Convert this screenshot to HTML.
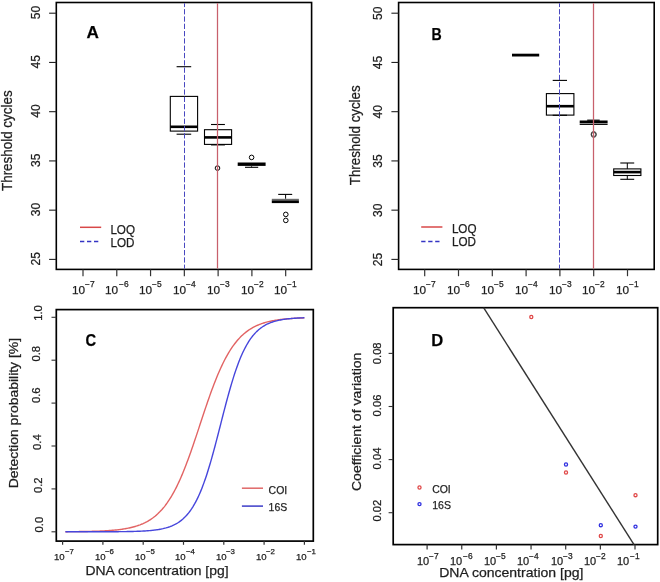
<!DOCTYPE html>
<html><head><meta charset="utf-8"><style>
html,body{margin:0;padding:0;background:#fff;}
svg{display:block;will-change:transform;}
text{font-family:"Liberation Sans",sans-serif;stroke:#1e1e1e;stroke-width:0.25px;}
</style></head><body>
<svg width="660" height="582" viewBox="0 0 660 582">
<rect width="660" height="582" fill="#fff"/>
<rect x="56.30" y="2.50" width="255.30" height="266.90" stroke="#000" stroke-width="1.6" fill="none"/>
<rect x="398.60" y="2.50" width="255.60" height="266.90" stroke="#000" stroke-width="1.6" fill="none"/>
<line x1="49.10" y1="259.40" x2="56.30" y2="259.40" stroke="#222" stroke-width="1.1" />
<text x="39.80" y="258.70" font-size="12.1" text-anchor="middle" font-weight="normal" fill="#1e1e1e" transform="rotate(-90 39.80 258.70)" >25</text>
<line x1="49.10" y1="210.16" x2="56.30" y2="210.16" stroke="#222" stroke-width="1.1" />
<text x="39.80" y="209.46" font-size="12.1" text-anchor="middle" font-weight="normal" fill="#1e1e1e" transform="rotate(-90 39.80 209.46)" >30</text>
<line x1="49.10" y1="160.92" x2="56.30" y2="160.92" stroke="#222" stroke-width="1.1" />
<text x="39.80" y="160.22" font-size="12.1" text-anchor="middle" font-weight="normal" fill="#1e1e1e" transform="rotate(-90 39.80 160.22)" >35</text>
<line x1="49.10" y1="111.68" x2="56.30" y2="111.68" stroke="#222" stroke-width="1.1" />
<text x="39.80" y="110.98" font-size="12.1" text-anchor="middle" font-weight="normal" fill="#1e1e1e" transform="rotate(-90 39.80 110.98)" >40</text>
<line x1="49.10" y1="62.44" x2="56.30" y2="62.44" stroke="#222" stroke-width="1.1" />
<text x="39.80" y="61.74" font-size="12.1" text-anchor="middle" font-weight="normal" fill="#1e1e1e" transform="rotate(-90 39.80 61.74)" >45</text>
<line x1="49.10" y1="13.20" x2="56.30" y2="13.20" stroke="#222" stroke-width="1.1" />
<text x="39.80" y="12.50" font-size="12.1" text-anchor="middle" font-weight="normal" fill="#1e1e1e" transform="rotate(-90 39.80 12.50)" >50</text>
<line x1="391.40" y1="259.40" x2="398.60" y2="259.40" stroke="#222" stroke-width="1.1" />
<text x="382.00" y="259.40" font-size="12.1" text-anchor="middle" font-weight="normal" fill="#1e1e1e" transform="rotate(-90 382.00 259.40)" >25</text>
<line x1="391.40" y1="210.16" x2="398.60" y2="210.16" stroke="#222" stroke-width="1.1" />
<text x="382.00" y="210.16" font-size="12.1" text-anchor="middle" font-weight="normal" fill="#1e1e1e" transform="rotate(-90 382.00 210.16)" >30</text>
<line x1="391.40" y1="160.92" x2="398.60" y2="160.92" stroke="#222" stroke-width="1.1" />
<text x="382.00" y="160.92" font-size="12.1" text-anchor="middle" font-weight="normal" fill="#1e1e1e" transform="rotate(-90 382.00 160.92)" >35</text>
<line x1="391.40" y1="111.68" x2="398.60" y2="111.68" stroke="#222" stroke-width="1.1" />
<text x="382.00" y="111.68" font-size="12.1" text-anchor="middle" font-weight="normal" fill="#1e1e1e" transform="rotate(-90 382.00 111.68)" >40</text>
<line x1="391.40" y1="62.44" x2="398.60" y2="62.44" stroke="#222" stroke-width="1.1" />
<text x="382.00" y="62.44" font-size="12.1" text-anchor="middle" font-weight="normal" fill="#1e1e1e" transform="rotate(-90 382.00 62.44)" >45</text>
<line x1="391.40" y1="13.20" x2="398.60" y2="13.20" stroke="#222" stroke-width="1.1" />
<text x="382.00" y="13.20" font-size="12.1" text-anchor="middle" font-weight="normal" fill="#1e1e1e" transform="rotate(-90 382.00 13.20)" >50</text>
<line x1="83.00" y1="269.40" x2="83.00" y2="276.20" stroke="#333" stroke-width="1.2" />
<text x="72.00" y="294.10" font-size="11.8" text-anchor="start" font-weight="normal" fill="#1e1e1e" >10</text>
<text x="85.00" y="287.10" font-size="8.4" text-anchor="start" font-weight="normal" fill="#1e1e1e" >−7</text>
<line x1="116.78" y1="269.40" x2="116.78" y2="276.20" stroke="#333" stroke-width="1.2" />
<text x="105.00" y="294.10" font-size="11.8" text-anchor="start" font-weight="normal" fill="#1e1e1e" >10</text>
<text x="119.00" y="287.10" font-size="8.4" text-anchor="start" font-weight="normal" fill="#1e1e1e" >−6</text>
<line x1="150.56" y1="269.40" x2="150.56" y2="276.20" stroke="#333" stroke-width="1.2" />
<text x="139.00" y="294.10" font-size="11.8" text-anchor="start" font-weight="normal" fill="#1e1e1e" >10</text>
<text x="152.00" y="287.10" font-size="8.4" text-anchor="start" font-weight="normal" fill="#1e1e1e" >−5</text>
<line x1="184.34" y1="269.40" x2="184.34" y2="276.20" stroke="#333" stroke-width="1.2" />
<text x="173.00" y="294.10" font-size="11.8" text-anchor="start" font-weight="normal" fill="#1e1e1e" >10</text>
<text x="186.00" y="287.10" font-size="8.4" text-anchor="start" font-weight="normal" fill="#1e1e1e" >−4</text>
<line x1="218.12" y1="269.40" x2="218.12" y2="276.20" stroke="#333" stroke-width="1.2" />
<text x="207.00" y="294.10" font-size="11.8" text-anchor="start" font-weight="normal" fill="#1e1e1e" >10</text>
<text x="220.00" y="287.10" font-size="8.4" text-anchor="start" font-weight="normal" fill="#1e1e1e" >−3</text>
<line x1="251.90" y1="269.40" x2="251.90" y2="276.20" stroke="#333" stroke-width="1.2" />
<text x="241.00" y="294.10" font-size="11.8" text-anchor="start" font-weight="normal" fill="#1e1e1e" >10</text>
<text x="254.00" y="287.10" font-size="8.4" text-anchor="start" font-weight="normal" fill="#1e1e1e" >−2</text>
<line x1="285.68" y1="269.40" x2="285.68" y2="276.20" stroke="#333" stroke-width="1.2" />
<text x="274.00" y="294.10" font-size="11.8" text-anchor="start" font-weight="normal" fill="#1e1e1e" >10</text>
<text x="287.00" y="287.10" font-size="8.4" text-anchor="start" font-weight="normal" fill="#1e1e1e" >−1</text>
<line x1="424.70" y1="269.40" x2="424.70" y2="276.20" stroke="#333" stroke-width="1.2" />
<text x="413.00" y="294.10" font-size="11.8" text-anchor="start" font-weight="normal" fill="#1e1e1e" >10</text>
<text x="426.00" y="287.10" font-size="8.4" text-anchor="start" font-weight="normal" fill="#1e1e1e" >−7</text>
<line x1="458.50" y1="269.40" x2="458.50" y2="276.20" stroke="#333" stroke-width="1.2" />
<text x="447.00" y="294.10" font-size="11.8" text-anchor="start" font-weight="normal" fill="#1e1e1e" >10</text>
<text x="460.00" y="287.10" font-size="8.4" text-anchor="start" font-weight="normal" fill="#1e1e1e" >−6</text>
<line x1="492.30" y1="269.40" x2="492.30" y2="276.20" stroke="#333" stroke-width="1.2" />
<text x="481.00" y="294.10" font-size="11.8" text-anchor="start" font-weight="normal" fill="#1e1e1e" >10</text>
<text x="494.00" y="287.10" font-size="8.4" text-anchor="start" font-weight="normal" fill="#1e1e1e" >−5</text>
<line x1="526.10" y1="269.40" x2="526.10" y2="276.20" stroke="#333" stroke-width="1.2" />
<text x="515.00" y="294.10" font-size="11.8" text-anchor="start" font-weight="normal" fill="#1e1e1e" >10</text>
<text x="528.00" y="287.10" font-size="8.4" text-anchor="start" font-weight="normal" fill="#1e1e1e" >−4</text>
<line x1="559.90" y1="269.40" x2="559.90" y2="276.20" stroke="#333" stroke-width="1.2" />
<text x="549.00" y="294.10" font-size="11.8" text-anchor="start" font-weight="normal" fill="#1e1e1e" >10</text>
<text x="562.00" y="287.10" font-size="8.4" text-anchor="start" font-weight="normal" fill="#1e1e1e" >−3</text>
<line x1="593.70" y1="269.40" x2="593.70" y2="276.20" stroke="#333" stroke-width="1.2" />
<text x="582.00" y="294.10" font-size="11.8" text-anchor="start" font-weight="normal" fill="#1e1e1e" >10</text>
<text x="595.00" y="287.10" font-size="8.4" text-anchor="start" font-weight="normal" fill="#1e1e1e" >−2</text>
<line x1="627.50" y1="269.40" x2="627.50" y2="276.20" stroke="#333" stroke-width="1.2" />
<text x="616.00" y="294.10" font-size="11.8" text-anchor="start" font-weight="normal" fill="#1e1e1e" >10</text>
<text x="629.00" y="287.10" font-size="8.4" text-anchor="start" font-weight="normal" fill="#1e1e1e" >−1</text>
<line x1="80.00" y1="227.30" x2="101.20" y2="227.30" stroke="#d84848" stroke-width="1.5" />
<line x1="80.00" y1="241.50" x2="99.00" y2="241.50" stroke="#3434c4" stroke-width="1.5" stroke-dasharray="4.3 2.7" />
<text x="110.40" y="233.50" font-size="12" text-anchor="start" font-weight="normal" fill="#1e1e1e" textLength="24.60" lengthAdjust="spacingAndGlyphs" >LOQ</text>
<text x="110.40" y="246.80" font-size="12" text-anchor="start" font-weight="normal" fill="#1e1e1e" textLength="24.00" lengthAdjust="spacingAndGlyphs" >LOD</text>
<line x1="421.20" y1="227.00" x2="442.40" y2="227.00" stroke="#d84848" stroke-width="1.5" />
<line x1="421.20" y1="241.50" x2="440.20" y2="241.50" stroke="#3434c4" stroke-width="1.5" stroke-dasharray="4.3 2.7" />
<text x="451.90" y="233.20" font-size="12" text-anchor="start" font-weight="normal" fill="#1e1e1e" textLength="24.60" lengthAdjust="spacingAndGlyphs" >LOQ</text>
<text x="451.90" y="246.40" font-size="12" text-anchor="start" font-weight="normal" fill="#1e1e1e" textLength="24.00" lengthAdjust="spacingAndGlyphs" >LOD</text>
<text x="86.60" y="37.80" font-size="16.2" text-anchor="start" font-weight="bold" fill="#000" textLength="12.40" lengthAdjust="spacingAndGlyphs" >A</text>
<text x="431.60" y="39.70" font-size="16.5" text-anchor="start" font-weight="bold" fill="#000" textLength="10.20" lengthAdjust="spacingAndGlyphs" >B</text>
<text x="12.10" y="191.00" font-size="13.8" text-anchor="start" font-weight="normal" fill="#1e1e1e" transform="rotate(-90 12.10 191.00)" textLength="100.60" lengthAdjust="spacingAndGlyphs" >Threshold cycles</text>
<text x="359.60" y="185.20" font-size="13.8" text-anchor="start" font-weight="normal" fill="#1e1e1e" transform="rotate(-90 359.60 185.20)" textLength="99.80" lengthAdjust="spacingAndGlyphs" >Threshold cycles</text>
<line x1="176.60" y1="66.70" x2="191.20" y2="66.70" stroke="#000" stroke-width="1.1" />
<line x1="176.60" y1="134.20" x2="191.20" y2="134.20" stroke="#000" stroke-width="1.1" />
<rect x="170.30" y="96.40" width="27.30" height="34.70" stroke="#000" stroke-width="1.1" fill="none"/>
<line x1="170.30" y1="126.80" x2="197.60" y2="126.80" stroke="#000" stroke-width="2.6" />
<line x1="211.00" y1="124.50" x2="224.90" y2="124.50" stroke="#000" stroke-width="1.1" />
<line x1="211.00" y1="144.90" x2="224.90" y2="144.90" stroke="#000" stroke-width="1.1" />
<rect x="204.50" y="129.70" width="27.10" height="14.70" stroke="#000" stroke-width="1.1" fill="none"/>
<line x1="204.50" y1="137.40" x2="231.60" y2="137.40" stroke="#000" stroke-width="2.6" />
<circle cx="217.50" cy="168.10" r="2.3" stroke="#000" stroke-width="1" fill="none"/>
<line x1="245.00" y1="167.30" x2="258.20" y2="167.30" stroke="#000" stroke-width="1.1" />
<line x1="251.60" y1="166.30" x2="251.60" y2="167.30" stroke="#000" stroke-width="1" />
<rect x="237.7" y="162.5" width="27.9" height="3.4" fill="#000"/>
<circle cx="251.60" cy="157.40" r="2.3" stroke="#000" stroke-width="1" fill="none"/>
<line x1="278.20" y1="194.40" x2="292.20" y2="194.40" stroke="#000" stroke-width="1.1" />
<line x1="285.60" y1="194.40" x2="285.60" y2="198.80" stroke="#000" stroke-width="1" />
<rect x="271.8" y="198.8" width="27.1" height="1.6" fill="#6a6a6a"/>
<rect x="271.8" y="200.4" width="27.1" height="2.7" fill="#000"/>
<circle cx="285.80" cy="214.40" r="2.3" stroke="#000" stroke-width="1" fill="none"/>
<circle cx="285.80" cy="220.40" r="2.3" stroke="#000" stroke-width="1" fill="none"/>
<line x1="512.00" y1="55.10" x2="539.20" y2="55.10" stroke="#000" stroke-width="2.8" />
<line x1="552.70" y1="80.40" x2="567.00" y2="80.40" stroke="#000" stroke-width="1.1" />
<line x1="552.70" y1="115.30" x2="567.00" y2="115.30" stroke="#000" stroke-width="1.1" />
<rect x="546.40" y="93.60" width="27.50" height="21.50" stroke="#000" stroke-width="1.1" fill="none"/>
<line x1="546.40" y1="106.20" x2="573.90" y2="106.20" stroke="#000" stroke-width="2.6" />
<line x1="587.20" y1="120.20" x2="599.70" y2="120.20" stroke="#000" stroke-width="1.2" />
<rect x="579.7" y="120.5" width="27.9" height="2.6" fill="#000"/>
<rect x="579.7" y="123.1" width="27.9" height="0.8" fill="#8a8a8a"/>
<rect x="579.7" y="123.9" width="27.9" height="1.1" fill="#111"/>
<circle cx="593.70" cy="134.00" r="2.5" stroke="#333" stroke-width="0.9" fill="none"/>
<circle cx="593.70" cy="134.90" r="2.5" stroke="#333" stroke-width="0.9" fill="none"/>
<line x1="620.30" y1="163.00" x2="634.20" y2="163.00" stroke="#000" stroke-width="1.1" />
<line x1="620.30" y1="179.30" x2="634.20" y2="179.30" stroke="#000" stroke-width="1.1" />
<line x1="627.30" y1="163.00" x2="627.30" y2="168.90" stroke="#000" stroke-width="1" />
<line x1="627.30" y1="175.50" x2="627.30" y2="179.30" stroke="#000" stroke-width="1" />
<rect x="613.70" y="168.90" width="27.20" height="6.60" stroke="#000" stroke-width="1.1" fill="none"/>
<line x1="613.70" y1="172.10" x2="640.90" y2="172.10" stroke="#000" stroke-width="2.6" />
<line x1="184.50" y1="3.30" x2="184.50" y2="268.60" stroke="#4848c0" stroke-width="1.0" stroke-dasharray="5.3 2.0" stroke-dashoffset="1.5"/>
<line x1="217.50" y1="3.30" x2="217.50" y2="268.60" stroke="#c8606c" stroke-width="1.25" />
<line x1="559.50" y1="3.30" x2="559.50" y2="268.60" stroke="#4848c0" stroke-width="1.0" stroke-dasharray="5.3 2.0" stroke-dashoffset="1.5"/>
<line x1="593.50" y1="3.30" x2="593.50" y2="268.60" stroke="#c8606c" stroke-width="1.25" />
<rect x="56.30" y="309.60" width="257.00" height="231.50" stroke="#000" stroke-width="1.7" fill="none"/>
<line x1="51.50" y1="317.30" x2="56.30" y2="317.30" stroke="#333" stroke-width="1.1" />
<text x="41.50" y="313.00" font-size="11.3" text-anchor="middle" font-weight="normal" fill="#1e1e1e" transform="rotate(-90 41.50 313.00)" >1.0</text>
<line x1="51.50" y1="360.20" x2="56.30" y2="360.20" stroke="#333" stroke-width="1.1" />
<text x="39.80" y="353.70" font-size="11.3" text-anchor="middle" font-weight="normal" fill="#1e1e1e" transform="rotate(-90 39.80 353.70)" >0.8</text>
<line x1="51.50" y1="403.10" x2="56.30" y2="403.10" stroke="#333" stroke-width="1.1" />
<text x="40.30" y="395.20" font-size="11.3" text-anchor="middle" font-weight="normal" fill="#1e1e1e" transform="rotate(-90 40.30 395.20)" >0.6</text>
<line x1="51.50" y1="446.00" x2="56.30" y2="446.00" stroke="#333" stroke-width="1.1" />
<text x="41.00" y="442.10" font-size="11.3" text-anchor="middle" font-weight="normal" fill="#1e1e1e" transform="rotate(-90 41.00 442.10)" >0.4</text>
<line x1="51.50" y1="488.90" x2="56.30" y2="488.90" stroke="#333" stroke-width="1.1" />
<text x="42.00" y="485.20" font-size="11.3" text-anchor="middle" font-weight="normal" fill="#1e1e1e" transform="rotate(-90 42.00 485.20)" >0.2</text>
<line x1="51.50" y1="531.80" x2="56.30" y2="531.80" stroke="#333" stroke-width="1.1" />
<text x="43.00" y="524.60" font-size="11.3" text-anchor="middle" font-weight="normal" fill="#1e1e1e" transform="rotate(-90 43.00 524.60)" >0.0</text>
<line x1="62.60" y1="541.10" x2="62.60" y2="544.80" stroke="#333" stroke-width="1.2" />
<text x="54.00" y="560.00" font-size="9.6" text-anchor="start" font-weight="normal" fill="#1e1e1e" >10</text>
<text x="65.00" y="554.20" font-size="7.8" text-anchor="start" font-weight="normal" fill="#1e1e1e" >−7</text>
<line x1="102.90" y1="541.10" x2="102.90" y2="544.80" stroke="#333" stroke-width="1.2" />
<text x="95.00" y="560.00" font-size="9.6" text-anchor="start" font-weight="normal" fill="#1e1e1e" >10</text>
<text x="105.00" y="554.20" font-size="7.8" text-anchor="start" font-weight="normal" fill="#1e1e1e" >−6</text>
<line x1="143.20" y1="541.10" x2="143.20" y2="544.80" stroke="#333" stroke-width="1.2" />
<text x="135.00" y="560.00" font-size="9.6" text-anchor="start" font-weight="normal" fill="#1e1e1e" >10</text>
<text x="146.00" y="554.20" font-size="7.8" text-anchor="start" font-weight="normal" fill="#1e1e1e" >−5</text>
<line x1="183.50" y1="541.10" x2="183.50" y2="544.80" stroke="#333" stroke-width="1.2" />
<text x="175.00" y="560.00" font-size="9.6" text-anchor="start" font-weight="normal" fill="#1e1e1e" >10</text>
<text x="186.00" y="554.20" font-size="7.8" text-anchor="start" font-weight="normal" fill="#1e1e1e" >−4</text>
<line x1="223.80" y1="541.10" x2="223.80" y2="544.80" stroke="#333" stroke-width="1.2" />
<text x="216.00" y="560.00" font-size="9.6" text-anchor="start" font-weight="normal" fill="#1e1e1e" >10</text>
<text x="226.00" y="554.20" font-size="7.8" text-anchor="start" font-weight="normal" fill="#1e1e1e" >−3</text>
<line x1="264.10" y1="541.10" x2="264.10" y2="544.80" stroke="#333" stroke-width="1.2" />
<text x="256.00" y="560.00" font-size="9.6" text-anchor="start" font-weight="normal" fill="#1e1e1e" >10</text>
<text x="266.00" y="554.20" font-size="7.8" text-anchor="start" font-weight="normal" fill="#1e1e1e" >−2</text>
<line x1="304.40" y1="541.10" x2="304.40" y2="544.80" stroke="#333" stroke-width="1.2" />
<text x="296.00" y="560.00" font-size="9.6" text-anchor="start" font-weight="normal" fill="#1e1e1e" >10</text>
<text x="307.00" y="554.20" font-size="7.8" text-anchor="start" font-weight="normal" fill="#1e1e1e" >−1</text>
<text x="85.40" y="574.90" font-size="13.5" text-anchor="start" font-weight="normal" fill="#1e1e1e" textLength="143.20" lengthAdjust="spacingAndGlyphs" >DNA concentration [pg]</text>
<text x="17.90" y="488.20" font-size="13.5" text-anchor="start" font-weight="normal" fill="#1e1e1e" transform="rotate(-90 17.90 488.20)" textLength="150.30" lengthAdjust="spacingAndGlyphs" >Detection probability [%]</text>
<text x="85.60" y="345.60" font-size="16.6" text-anchor="start" font-weight="bold" fill="#000" textLength="10.60" lengthAdjust="spacingAndGlyphs" >C</text>
<polyline points="65.42,531.69 66.42,531.69 67.41,531.68 68.41,531.67 69.40,531.67 70.40,531.66 71.40,531.65 72.39,531.64 73.39,531.63 74.38,531.62 75.38,531.61 76.37,531.60 77.37,531.59 78.37,531.58 79.36,531.57 80.36,531.55 81.35,531.54 82.35,531.52 83.34,531.51 84.34,531.49 85.34,531.47 86.33,531.46 87.33,531.44 88.32,531.41 89.32,531.39 90.31,531.37 91.31,531.34 92.31,531.32 93.30,531.29 94.30,531.26 95.29,531.23 96.29,531.20 97.28,531.16 98.28,531.12 99.28,531.08 100.27,531.04 101.27,531.00 102.26,530.95 103.26,530.90 104.26,530.85 105.25,530.80 106.25,530.74 107.24,530.68 108.24,530.61 109.23,530.55 110.23,530.47 111.23,530.40 112.22,530.32 113.22,530.23 114.21,530.14 115.21,530.05 116.20,529.95 117.20,529.84 118.20,529.73 119.19,529.61 120.19,529.48 121.18,529.35 122.18,529.21 123.17,529.06 124.17,528.90 125.17,528.74 126.16,528.56 127.16,528.38 128.15,528.18 129.15,527.98 130.14,527.76 131.14,527.53 132.14,527.29 133.13,527.03 134.13,526.76 135.12,526.48 136.12,526.18 137.11,525.86 138.11,525.53 139.11,525.18 140.10,524.81 141.10,524.41 142.09,524.00 143.09,523.57 144.08,523.11 145.08,522.63 146.08,522.12 147.07,521.59 148.07,521.02 149.06,520.43 150.06,519.81 151.06,519.16 152.05,518.47 153.05,517.75 154.04,516.99 155.04,516.19 156.03,515.36 157.03,514.48 158.03,513.56 159.02,512.60 160.02,511.59 161.01,510.54 162.01,509.44 163.00,508.28 164.00,507.08 165.00,505.82 165.99,504.50 166.99,503.13 167.98,501.70 168.98,500.22 169.97,498.67 170.97,497.06 171.97,495.39 172.96,493.65 173.96,491.85 174.95,489.99 175.95,488.06 176.94,486.07 177.94,484.01 178.94,481.88 179.93,479.69 180.93,477.44 181.92,475.12 182.92,472.74 183.91,470.30 184.91,467.80 185.91,465.24 186.90,462.62 187.90,459.96 188.89,457.24 189.89,454.48 190.88,451.67 191.88,448.82 192.88,445.94 193.87,443.02 194.87,440.08 195.86,437.11 196.86,434.12 197.86,431.12 198.85,428.10 199.85,425.08 200.84,422.06 201.84,419.05 202.83,416.04 203.83,413.05 204.83,410.07 205.82,407.12 206.82,404.19 207.81,401.29 208.81,398.43 209.80,395.61 210.80,392.83 211.80,390.10 212.79,387.41 213.79,384.78 214.78,382.20 215.78,379.68 216.77,377.22 217.77,374.82 218.77,372.48 219.76,370.20 220.76,367.99 221.75,365.84 222.75,363.76 223.74,361.74 224.74,359.79 225.74,357.90 226.73,356.08 227.73,354.32 228.72,352.63 229.72,350.99 230.71,349.43 231.71,347.92 232.71,346.47 233.70,345.08 234.70,343.74 235.69,342.46 236.69,341.24 237.69,340.07 238.68,338.95 239.68,337.87 240.67,336.85 241.67,335.87 242.66,334.94 243.66,334.05 244.66,333.20 245.65,332.39 246.65,331.62 247.64,330.88 248.64,330.18 249.63,329.52 250.63,328.88 251.63,328.28 252.62,327.71 253.62,327.17 254.61,326.65 255.61,326.16 256.60,325.69 257.60,325.25 258.60,324.83 259.59,324.43 260.59,324.05 261.58,323.69 262.58,323.35 263.57,323.03 264.57,322.72 265.57,322.43 266.56,322.16 267.56,321.90 268.55,321.65 269.55,321.42 270.54,321.20 271.54,320.99 272.54,320.79 273.53,320.60 274.53,320.42 275.52,320.25 276.52,320.09 277.51,319.94 278.51,319.80 279.51,319.66 280.50,319.54 281.50,319.41 282.49,319.30 283.49,319.19 284.49,319.09 285.48,318.99 286.48,318.90 287.47,318.81 288.47,318.73 289.46,318.65 290.46,318.58 291.46,318.51 292.45,318.44 293.45,318.38 294.44,318.32 295.44,318.27 296.43,318.21 297.43,318.16 298.43,318.12 299.42,318.07 300.42,318.03 301.41,317.99 302.41,317.95 303.40,317.92 304.40,317.88" fill="none" stroke="#e26464" stroke-width="1.4" stroke-linejoin="round"/>
<polyline points="65.42,531.80 66.42,531.80 67.41,531.80 68.41,531.80 69.40,531.80 70.40,531.80 71.40,531.80 72.39,531.80 73.39,531.80 74.38,531.80 75.38,531.79 76.37,531.79 77.37,531.79 78.37,531.79 79.36,531.79 80.36,531.79 81.35,531.79 82.35,531.79 83.34,531.79 84.34,531.79 85.34,531.79 86.33,531.79 87.33,531.79 88.32,531.79 89.32,531.79 90.31,531.78 91.31,531.78 92.31,531.78 93.30,531.78 94.30,531.78 95.29,531.78 96.29,531.78 97.28,531.77 98.28,531.77 99.28,531.77 100.27,531.77 101.27,531.77 102.26,531.76 103.26,531.76 104.26,531.76 105.25,531.75 106.25,531.75 107.24,531.75 108.24,531.74 109.23,531.74 110.23,531.73 111.23,531.73 112.22,531.72 113.22,531.72 114.21,531.71 115.21,531.70 116.20,531.70 117.20,531.69 118.20,531.68 119.19,531.67 120.19,531.66 121.18,531.65 122.18,531.64 123.17,531.63 124.17,531.62 125.17,531.60 126.16,531.59 127.16,531.57 128.15,531.55 129.15,531.53 130.14,531.51 131.14,531.49 132.14,531.47 133.13,531.44 134.13,531.42 135.12,531.39 136.12,531.36 137.11,531.32 138.11,531.29 139.11,531.25 140.10,531.21 141.10,531.16 142.09,531.12 143.09,531.06 144.08,531.01 145.08,530.95 146.08,530.89 147.07,530.82 148.07,530.74 149.06,530.66 150.06,530.58 151.06,530.49 152.05,530.39 153.05,530.28 154.04,530.17 155.04,530.04 156.03,529.91 157.03,529.77 158.03,529.62 159.02,529.46 160.02,529.28 161.01,529.09 162.01,528.89 163.00,528.68 164.00,528.44 165.00,528.19 165.99,527.93 166.99,527.64 167.98,527.33 168.98,527.00 169.97,526.65 170.97,526.27 171.97,525.86 172.96,525.42 173.96,524.96 174.95,524.46 175.95,523.92 176.94,523.35 177.94,522.74 178.94,522.08 179.93,521.38 180.93,520.64 181.92,519.84 182.92,518.99 183.91,518.08 184.91,517.12 185.91,516.09 186.90,514.99 187.90,513.83 188.89,512.59 189.89,511.28 190.88,509.89 191.88,508.41 192.88,506.85 193.87,505.19 194.87,503.45 195.86,501.61 196.86,499.67 197.86,497.62 198.85,495.48 199.85,493.22 200.84,490.86 201.84,488.39 202.83,485.82 203.83,483.13 204.83,480.33 205.82,477.43 206.82,474.41 207.81,471.30 208.81,468.08 209.80,464.77 210.80,461.37 211.80,457.88 212.79,454.31 213.79,450.66 214.78,446.96 215.78,443.19 216.77,439.38 217.77,435.53 218.77,431.65 219.76,427.75 220.76,423.84 221.75,419.93 222.75,416.04 223.74,412.17 224.74,408.33 225.74,404.53 226.73,400.79 227.73,397.10 228.72,393.48 229.72,389.94 230.71,386.48 231.71,383.11 232.71,379.83 233.70,376.65 234.70,373.58 235.69,370.60 236.69,367.74 237.69,364.98 238.68,362.33 239.68,359.79 240.67,357.36 241.67,355.04 242.66,352.83 243.66,350.72 244.66,348.72 245.65,346.81 246.65,345.00 247.64,343.29 248.64,341.67 249.63,340.14 250.63,338.70 251.63,337.33 252.62,336.05 253.62,334.84 254.61,333.70 255.61,332.63 256.60,331.62 257.60,330.68 258.60,329.79 259.59,328.96 260.59,328.18 261.58,327.46 262.58,326.77 263.57,326.14 264.57,325.54 265.57,324.98 266.56,324.46 267.56,323.97 268.55,323.51 269.55,323.09 270.54,322.69 271.54,322.32 272.54,321.98 273.53,321.66 274.53,321.35 275.52,321.07 276.52,320.81 277.51,320.57 278.51,320.34 279.51,320.13 280.50,319.94 281.50,319.75 282.49,319.58 283.49,319.42 284.49,319.28 285.48,319.14 286.48,319.01 287.47,318.89 288.47,318.78 289.46,318.68 290.46,318.58 291.46,318.49 292.45,318.41 293.45,318.33 294.44,318.26 295.44,318.19 296.43,318.13 297.43,318.07 298.43,318.02 299.42,317.97 300.42,317.92 301.41,317.88 302.41,317.84 303.40,317.80 304.40,317.76" fill="none" stroke="#4646dc" stroke-width="1.4" stroke-linejoin="round"/>
<line x1="241.90" y1="488.20" x2="263.00" y2="488.20" stroke="#e06868" stroke-width="1.5" />
<line x1="241.90" y1="506.10" x2="263.00" y2="506.10" stroke="#3c3cc8" stroke-width="1.5" />
<text x="268.60" y="493.60" font-size="11.6" text-anchor="start" font-weight="normal" fill="#1e1e1e" textLength="18.60" lengthAdjust="spacingAndGlyphs" >COI</text>
<text x="268.60" y="511.40" font-size="11.6" text-anchor="start" font-weight="normal" fill="#1e1e1e" textLength="18.60" lengthAdjust="spacingAndGlyphs" >16S</text>
<rect x="393.20" y="307.70" width="264.50" height="236.90" stroke="#000" stroke-width="1.7" fill="none"/>
<line x1="388.60" y1="512.70" x2="393.20" y2="512.70" stroke="#333" stroke-width="1.1" />
<text x="380.60" y="510.60" font-size="11.2" text-anchor="middle" font-weight="normal" fill="#1e1e1e" transform="rotate(-90 380.60 510.60)" >0.02</text>
<line x1="388.60" y1="459.60" x2="393.20" y2="459.60" stroke="#333" stroke-width="1.1" />
<text x="380.80" y="458.50" font-size="11.2" text-anchor="middle" font-weight="normal" fill="#1e1e1e" transform="rotate(-90 380.80 458.50)" >0.04</text>
<line x1="388.60" y1="406.50" x2="393.20" y2="406.50" stroke="#333" stroke-width="1.1" />
<text x="381.00" y="405.50" font-size="11.2" text-anchor="middle" font-weight="normal" fill="#1e1e1e" transform="rotate(-90 381.00 405.50)" >0.06</text>
<line x1="388.60" y1="353.40" x2="393.20" y2="353.40" stroke="#333" stroke-width="1.1" />
<text x="381.00" y="353.30" font-size="11.2" text-anchor="middle" font-weight="normal" fill="#1e1e1e" transform="rotate(-90 381.00 353.30)" >0.08</text>
<line x1="427.10" y1="544.60" x2="427.10" y2="549.40" stroke="#333" stroke-width="1.2" />
<text x="417.00" y="565.20" font-size="11.0" text-anchor="start" font-weight="normal" fill="#1e1e1e" >10</text>
<text x="429.00" y="558.90" font-size="8.4" text-anchor="start" font-weight="normal" fill="#1e1e1e" >−7</text>
<line x1="461.75" y1="544.60" x2="461.75" y2="549.40" stroke="#333" stroke-width="1.2" />
<text x="450.00" y="565.20" font-size="11.0" text-anchor="start" font-weight="normal" fill="#1e1e1e" >10</text>
<text x="463.00" y="558.90" font-size="8.4" text-anchor="start" font-weight="normal" fill="#1e1e1e" >−6</text>
<line x1="496.40" y1="544.60" x2="496.40" y2="549.40" stroke="#333" stroke-width="1.2" />
<text x="484.00" y="565.20" font-size="11.0" text-anchor="start" font-weight="normal" fill="#1e1e1e" >10</text>
<text x="496.00" y="558.90" font-size="8.4" text-anchor="start" font-weight="normal" fill="#1e1e1e" >−5</text>
<line x1="531.05" y1="544.60" x2="531.05" y2="549.40" stroke="#333" stroke-width="1.2" />
<text x="517.00" y="565.20" font-size="11.0" text-anchor="start" font-weight="normal" fill="#1e1e1e" >10</text>
<text x="529.00" y="558.90" font-size="8.4" text-anchor="start" font-weight="normal" fill="#1e1e1e" >−4</text>
<line x1="565.70" y1="544.60" x2="565.70" y2="549.40" stroke="#333" stroke-width="1.2" />
<text x="551.00" y="565.20" font-size="11.0" text-anchor="start" font-weight="normal" fill="#1e1e1e" >10</text>
<text x="563.00" y="558.90" font-size="8.4" text-anchor="start" font-weight="normal" fill="#1e1e1e" >−3</text>
<line x1="600.35" y1="544.60" x2="600.35" y2="549.40" stroke="#333" stroke-width="1.2" />
<text x="584.00" y="565.20" font-size="11.0" text-anchor="start" font-weight="normal" fill="#1e1e1e" >10</text>
<text x="596.00" y="558.90" font-size="8.4" text-anchor="start" font-weight="normal" fill="#1e1e1e" >−2</text>
<line x1="635.00" y1="544.60" x2="635.00" y2="549.40" stroke="#333" stroke-width="1.2" />
<text x="617.00" y="565.20" font-size="11.0" text-anchor="start" font-weight="normal" fill="#1e1e1e" >10</text>
<text x="630.00" y="558.90" font-size="8.4" text-anchor="start" font-weight="normal" fill="#1e1e1e" >−1</text>
<text x="439.20" y="577.20" font-size="13.5" text-anchor="start" font-weight="normal" fill="#1e1e1e" textLength="144.20" lengthAdjust="spacingAndGlyphs" >DNA concentration [pg]</text>
<text x="360.70" y="491.00" font-size="13.5" text-anchor="start" font-weight="normal" fill="#1e1e1e" transform="rotate(-90 360.70 491.00)" textLength="138.40" lengthAdjust="spacingAndGlyphs" >Coefficient of variation</text>
<text x="431.20" y="345.60" font-size="16.6" text-anchor="start" font-weight="bold" fill="#000" textLength="12.00" lengthAdjust="spacingAndGlyphs" >D</text>
<line x1="483.60" y1="307.70" x2="634.00" y2="544.60" stroke="#333" stroke-width="1.4" />
<circle cx="531.30" cy="317.00" r="1.55" stroke="#e04848" stroke-width="1.3" fill="none"/>
<circle cx="566.00" cy="464.50" r="1.55" stroke="#3030e0" stroke-width="1.3" fill="none"/>
<circle cx="566.00" cy="472.50" r="1.55" stroke="#e04848" stroke-width="1.3" fill="none"/>
<circle cx="600.80" cy="525.20" r="1.55" stroke="#3030e0" stroke-width="1.3" fill="none"/>
<circle cx="600.80" cy="536.00" r="1.55" stroke="#e04848" stroke-width="1.3" fill="none"/>
<circle cx="635.50" cy="495.20" r="1.55" stroke="#e04848" stroke-width="1.3" fill="none"/>
<circle cx="635.50" cy="526.60" r="1.55" stroke="#3030e0" stroke-width="1.3" fill="none"/>
<circle cx="419.50" cy="487.50" r="1.55" stroke="#e04848" stroke-width="1.3" fill="none"/>
<circle cx="419.50" cy="504.10" r="1.55" stroke="#3030e0" stroke-width="1.3" fill="none"/>
<text x="432.20" y="492.70" font-size="11.6" text-anchor="start" font-weight="normal" fill="#1e1e1e" textLength="18.60" lengthAdjust="spacingAndGlyphs" >COI</text>
<text x="432.20" y="508.80" font-size="11.6" text-anchor="start" font-weight="normal" fill="#1e1e1e" textLength="18.80" lengthAdjust="spacingAndGlyphs" >16S</text>
</svg></body></html>
